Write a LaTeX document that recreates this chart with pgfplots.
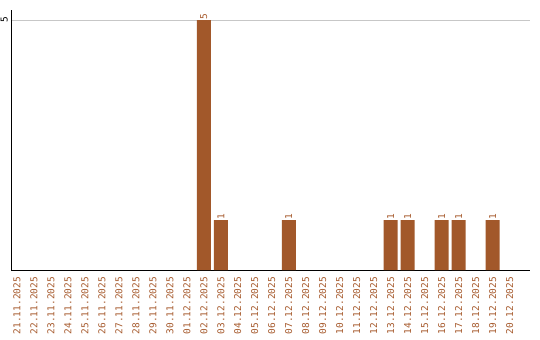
\documentclass[border=0pt]{standalone}
\usepackage{pgfplots}
\pgfplotsset{compat=1.18}
\usepackage{fontspec}
\setmonofont{DejaVu Sans Mono}
\definecolor{barcol}{RGB}{162,88,42}
\definecolor{labcol}{RGB}{166,90,45}
\newcommand{\lblfont}{\ttfamily\fontsize{9.5}{10}\selectfont}

\begin{document}
\begin{tikzpicture}
\begin{axis}[
  at={(0,0)}, anchor=south west,
  scale only axis, width=519bp, height=260bp,
  xmin=-0.35, xmax=30.2, ymin=0, ymax=5.2,
  axis x line=bottom, axis y line=left,
  axis line style={-, black, line width=1pt},
  /pgf/number format/assume math mode=true,
  ybar, bar width=14bp, bar shift=0pt,
  xtick={0,...,29},
  xticklabels={21.11.2025,22.11.2025,23.11.2025,24.11.2025,25.11.2025,26.11.2025,27.11.2025,28.11.2025,29.11.2025,30.11.2025,01.12.2025,02.12.2025,03.12.2025,04.12.2025,05.12.2025,06.12.2025,07.12.2025,08.12.2025,09.12.2025,10.12.2025,11.12.2025,12.12.2025,13.12.2025,14.12.2025,15.12.2025,16.12.2025,17.12.2025,18.12.2025,19.12.2025,20.12.2025},
  xticklabel shift=7bp,
  x tick label style={rotate=90, anchor=east, font=\lblfont, text=labcol, inner sep=0pt},
  ytick={5},
  yticklabel shift=3bp,
  y tick label style={rotate=90, anchor=south, font=\lblfont, text=black, inner sep=0pt},
  major tick length=0pt,
  ymajorgrids, grid style={line width=0.8pt, black!22},
  nodes near coords={\pgfmathprintnumber{\pgfplotspointmeta}},
  every node near coord/.append style={rotate=90, anchor=west, font=\lblfont, text=labcol, inner sep=0pt, xshift=0pt},
  clip=false,
]
\addplot[fill=barcol, draw=none] coordinates {
  (11,5) (12,1) (16,1) (22,1) (23,1) (25,1) (26,1) (28,1)
};
\end{axis}
\path[use as bounding box] (-11bp,-70bp) rectangle (529bp,270bp);
\end{tikzpicture}
\end{document}
